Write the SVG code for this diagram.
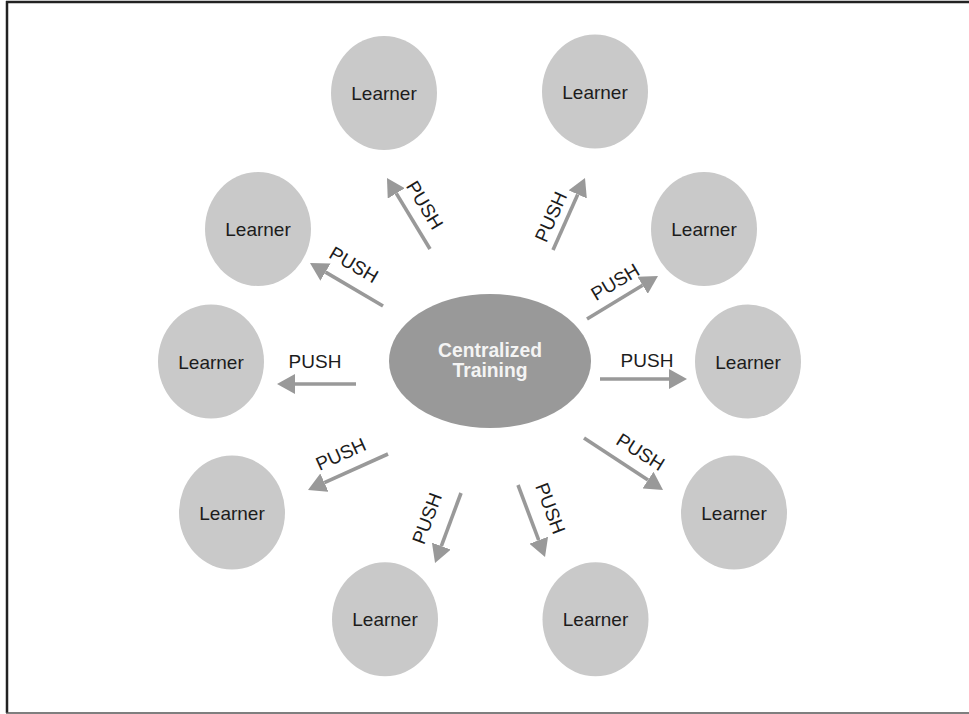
<svg xmlns="http://www.w3.org/2000/svg" width="969" height="714" viewBox="0 0 969 714">
  <defs>
    <marker id="head" viewBox="0 0 18 20" markerUnits="userSpaceOnUse" markerWidth="18" markerHeight="20" refX="0" refY="10" orient="auto">
      <path d="M0,0 L18,10 L0,20 z" fill="#999999"/>
    </marker>
    <style>
      .learner ellipse { fill: #c9c9c9; }
      .learner text { font-family: "Liberation Sans", Arial, sans-serif; font-size: 19px; fill: #1c1c1c; text-anchor: middle; }
      .hub ellipse { fill: #999999; }
      .hub text { font-family: "Liberation Sans", Arial, sans-serif; font-size: 19.3px; font-weight: bold; fill: #f4f4f4; text-anchor: middle; }
      .push line { stroke: #999999; stroke-width: 3.6; marker-end: url(#head); }
      .push text { font-family: "Liberation Sans", Arial, sans-serif; font-size: 19px; fill: #1c1c1c; text-anchor: middle; }
    </style>
  </defs>

  <rect x="0" y="0" width="969" height="714" fill="#ffffff"/>

  <!-- frame -->
  <g id="frame" fill="none">
    <line x1="6" y1="2" x2="969" y2="2" stroke="#222222" stroke-width="2.5"/>
    <line x1="7" y1="1" x2="7" y2="713" stroke="#222222" stroke-width="2.5"/>
    <line x1="6" y1="713" x2="969" y2="713" stroke="#555555" stroke-width="1.5"/>
  </g>

  <!-- connectors -->
  <g id="connectors" class="push">
    <line x1="356" y1="384" x2="295" y2="384"/>
    <text x="315" y="368">PUSH</text>

    <line x1="600" y1="379" x2="669" y2="379"/>
    <text x="647" y="367">PUSH</text>

    <line x1="383" y1="306" x2="325.5" y2="272.1"/>
    <text transform="translate(354,264.5) rotate(30.5)" dy="6.8">PUSH</text>

    <line x1="430" y1="249" x2="396.3" y2="193.4"/>
    <text transform="translate(425,205) rotate(58.8)" dy="6.8">PUSH</text>

    <line x1="553" y1="250" x2="577.7" y2="194.4"/>
    <text transform="translate(550.7,216.7) rotate(-66)" dy="6.8">PUSH</text>

    <line x1="587" y1="319" x2="642.6" y2="285.3"/>
    <text transform="translate(615,281.7) rotate(-31)" dy="6.8">PUSH</text>

    <line x1="388" y1="454" x2="324.4" y2="482.6"/>
    <text transform="translate(340.7,454) rotate(-24.2)" dy="6.8">PUSH</text>

    <line x1="461" y1="493" x2="441.3" y2="546.1"/>
    <text transform="translate(426.7,518.3) rotate(-69.6)" dy="6.8">PUSH</text>

    <line x1="518" y1="485" x2="538.7" y2="540.2"/>
    <text transform="translate(550.7,508.3) rotate(69.4)" dy="6.8">PUSH</text>

    <line x1="584" y1="438" x2="648" y2="480.1"/>
    <text transform="translate(640.7,451.7) rotate(32)" dy="6.8">PUSH</text>
  </g>

  <!-- central node -->
  <g id="hub" class="hub">
    <ellipse cx="490" cy="361" rx="101" ry="67"/>
    <text x="490" y="357">Centralized</text>
    <text x="490" y="377">Training</text>
  </g>

  <!-- learner nodes -->
  <g id="learner-top-left" class="learner">
    <ellipse cx="384" cy="93" rx="53" ry="57"/>
    <text x="384" y="100">Learner</text>
  </g>
  <g id="learner-top-right" class="learner">
    <ellipse cx="595" cy="91.5" rx="53" ry="57"/>
    <text x="595" y="98.5">Learner</text>
  </g>
  <g id="learner-upper-left" class="learner">
    <ellipse cx="258" cy="229" rx="53" ry="57"/>
    <text x="258" y="236">Learner</text>
  </g>
  <g id="learner-upper-right" class="learner">
    <ellipse cx="704" cy="229" rx="53" ry="57"/>
    <text x="704" y="236">Learner</text>
  </g>
  <g id="learner-left" class="learner">
    <ellipse cx="211" cy="361.5" rx="53" ry="57"/>
    <text x="211" y="368.5">Learner</text>
  </g>
  <g id="learner-right" class="learner">
    <ellipse cx="748" cy="361.5" rx="53" ry="57"/>
    <text x="748" y="368.5">Learner</text>
  </g>
  <g id="learner-lower-left" class="learner">
    <ellipse cx="232" cy="512.5" rx="53" ry="57"/>
    <text x="232" y="519.5">Learner</text>
  </g>
  <g id="learner-lower-right" class="learner">
    <ellipse cx="734" cy="512.5" rx="53" ry="57"/>
    <text x="734" y="519.5">Learner</text>
  </g>
  <g id="learner-bottom-left" class="learner">
    <ellipse cx="385" cy="619.3" rx="53" ry="57"/>
    <text x="385" y="625.5">Learner</text>
  </g>
  <g id="learner-bottom-right" class="learner">
    <ellipse cx="595.5" cy="619.3" rx="53" ry="57"/>
    <text x="595.5" y="625.5">Learner</text>
  </g>
</svg>
